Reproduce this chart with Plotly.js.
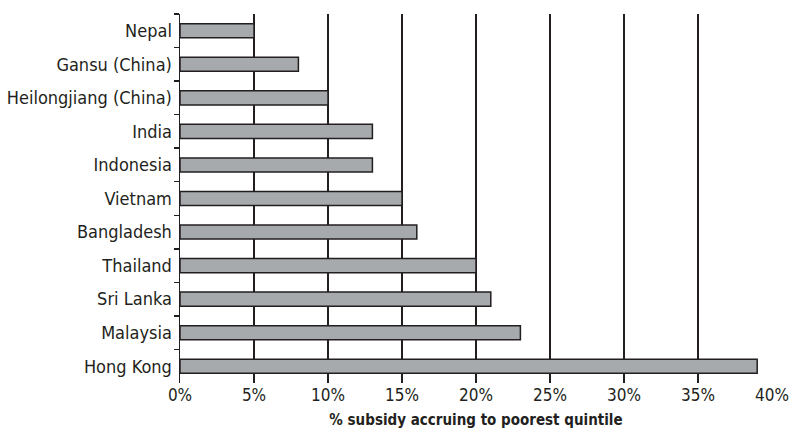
<!DOCTYPE html>
<html>
<head>
<meta charset="utf-8">
<script src="https://cdn.plot.ly/plotly-3.0.1.min.js"></script>
<style>html,body{margin:0;padding:0;background:#fff}#chart{width:789px;height:433px}</style>
</head>
<body>
<div id="chart"></div>
<script>
const categories = ["Nepal", "Gansu (China)", "Heilongjiang (China)", "India", "Indonesia", "Vietnam", "Bangladesh", "Thailand", "Sri Lanka", "Malaysia", "Hong Kong"];
const values = [5, 8, 10, 13, 13, 15, 16, 20, 21, 23, 39];
const xTickVals = [0, 5, 10, 15, 20, 25, 30, 35, 40];
const xTickText = ["0%", "5%", "10%", "15%", "20%", "25%", "30%", "35%", "40%"];
const xTitle = "% subsidy accruing to poorest quintile";

const fontFam = "'Liberation Sans Narrow', 'DejaVu Sans Condensed', Roboto, sans-serif";

Plotly.newPlot("chart", [{
  type: "bar",
  orientation: "h",
  y: categories,
  x: values,
  marker: {color: "#a7aaad", line: {color: "#231f20", width: 1.5}},
  hoverinfo: "none"
}], {
  width: 789, height: 433,
  margin: {l: 180, r: 17, t: 14, b: 50},
  paper_bgcolor: "#fff", plot_bgcolor: "#fff",
  bargap: 0.58,
  font: {family: fontFam, color: "#231f20"},
  showlegend: false,
  xaxis: {
    range: [0, 40],
    tickvals: xTickVals, ticktext: xTickText,
    showgrid: true, gridcolor: "#231f20", gridwidth: 1.5,
    zeroline: false, showline: false, ticks: "",
    tickfont: {size: 17, family: fontFam, color: "#231f20"},
    title: {text: "<b>" + xTitle + "</b>", font: {size: 15, family: fontFam, color: "#231f20"}, standoff: 10},
    fixedrange: true
  },
  yaxis: {
    autorange: "reversed",
    type: "category",
    showline: true, linecolor: "#231f20", linewidth: 1.5,
    ticks: "outside", tickson: "boundaries", ticklen: 5, tickcolor: "#231f20", tickwidth: 1.5,
    ticklabelstandoff: 3,
    showgrid: false, zeroline: false,
    tickfont: {size: 18, family: fontFam, color: "#231f20"},
    fixedrange: true
  }
}, {displayModeBar: false, staticPlot: true});
</script>
</body>
</html>
